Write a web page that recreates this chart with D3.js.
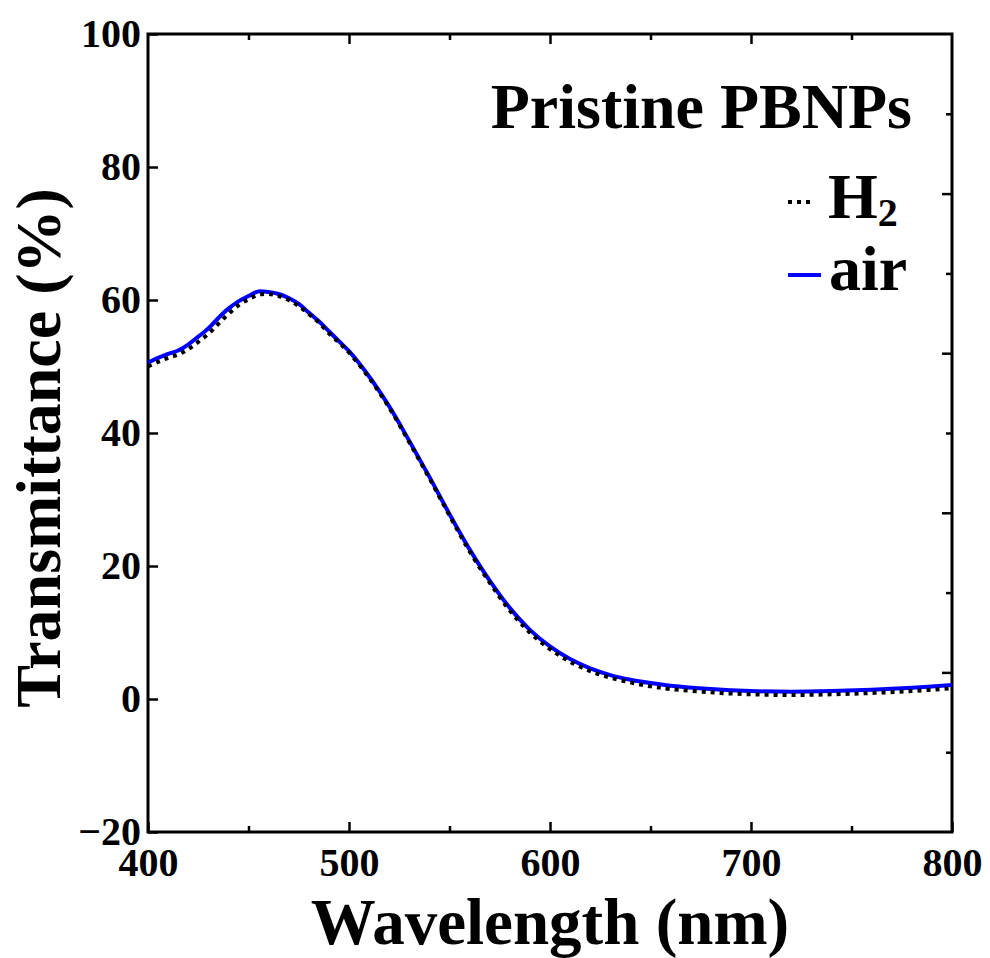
<!DOCTYPE html>
<html>
<head>
<meta charset="utf-8">
<script src="https://cdn.jsdelivr.net/npm/d3@7"></script>
<style>
  body { margin: 0; background: #fff; }
  text { font-family: "Liberation Serif", "Times New Roman", serif; font-weight: bold; fill: #000; }
</style>
</head>
<body>
<svg id="chart" width="990" height="958"></svg>
<script>
// wavelengths (nm)
const wavelength = [400,405,410,415,420,425,430,435,440,445,450,455,460,465,470,475,480,485,490,495,500,
    510,520,530,540,550,560,570,580,590,600,610,620,630,640,650,660,680,700,720,740,760,780,800]

// transmittance (%) measured in air
const airT = [50.6,51.3,51.9,52.4,53.3,54.5,55.7,57.3,58.7,59.8,60.6,61.3,61.2,60.9,60.3,59.4,58.1,56.8,55.3,53.8,52.3,
    48.5,44.0,38.8,33.4,27.8,22.5,17.8,13.7,10.4,7.9,6.0,4.6,3.6,2.9,2.4,2.0,1.5,1.2,1.1,1.2,1.4,1.7,2.1]

// transmittance (%) measured in H2
const h2T = [50.0,50.7,51.3,51.8,52.6,53.7,54.9,56.4,57.9,59.2,60.1,60.8,60.9,60.6,60.0,59.1,57.9,56.6,55.0,53.6,52.1,
    48.3,43.8,38.6,33.2,27.6,22.2,17.5,13.3,10.0,7.5,5.6,4.2,3.2,2.5,1.9,1.5,1.0,0.7,0.6,0.7,0.9,1.2,1.6]

const xTicks = [400,500,600,700,800]
const xMinor = [450,550,650,750]
const yTicks = [-20,0,20,40,60,80,100]
const rightMajor = [1,2,3,4]
const rightMinor = [0.5,1.5,2.5,3.5,4.5]

const pLeft = 148, pRight = 952, pTop = 34, pBottom = 832

var svg = d3.select("#chart")

var x = d3.scaleLinear().domain([400, 800]).range([pLeft, pRight])
var y = d3.scaleLinear().domain([-20, 100]).range([pBottom, pTop])
// unlabeled secondary scale on the right side
var yR = d3.scaleLinear().domain([0, 5]).range([pBottom, pTop])

const fmt = d => d < 0 ? "\u2212" + Math.abs(d) : d

function styleAxis(g) {
    g.select(".domain").remove()
    g.selectAll(".tick line").attr("stroke", "#000").attr("stroke-width", 2.5)
    g.selectAll(".tick text")
        .attr("font-family", "Liberation Serif, Times New Roman, serif")
        .attr("font-weight", "bold")
        .attr("font-size", 40)
        .attr("fill", "#000")
}

// bottom
svg.append("g").attr("transform", `translate(0,${pBottom})`)
    .call(d3.axisBottom(x).tickValues(xTicks).tickSize(-10).tickPadding(16).tickFormat(fmt))
    .call(styleAxis)
svg.append("g").attr("transform", `translate(0,${pBottom})`)
    .call(d3.axisBottom(x).tickValues(xMinor).tickSize(-6).tickFormat(""))
    .call(styleAxis)

// top
svg.append("g").attr("transform", `translate(0,${pTop})`)
    .call(d3.axisTop(x).tickValues([500,600,700]).tickSize(-10).tickFormat(""))
    .call(styleAxis)
svg.append("g").attr("transform", `translate(0,${pTop})`)
    .call(d3.axisTop(x).tickValues(xMinor).tickSize(-6).tickFormat(""))
    .call(styleAxis)

// left
svg.append("g").attr("transform", `translate(${pLeft},0)`)
    .call(d3.axisLeft(y).tickValues(yTicks).tickSize(-10).tickPadding(7).tickFormat(fmt))
    .call(styleAxis)

// right
svg.append("g").attr("transform", `translate(${pRight},0)`)
    .call(d3.axisRight(yR).tickValues(rightMajor).tickSize(-10).tickFormat(""))
    .call(styleAxis)
svg.append("g").attr("transform", `translate(${pRight},0)`)
    .call(d3.axisRight(yR).tickValues(rightMinor).tickSize(-6).tickFormat(""))
    .call(styleAxis)

// frame
svg.append("rect")
    .attr("x", pLeft).attr("y", pTop)
    .attr("width", pRight - pLeft).attr("height", pBottom - pTop)
    .attr("fill", "none").attr("stroke", "#000").attr("stroke-width", 3)

var line = d3.line()
    .x(d => x(d[0]))
    .y(d => y(d[1]))
    .curve(d3.curveCatmullRom)

svg.append("path")
    .datum(wavelength.map((w, i) => [w, airT[i]]))
    .attr("d", line)
    .attr("fill", "none")
    .attr("stroke", "#0000ff")
    .attr("stroke-width", 4)

svg.append("path")
    .datum(wavelength.map((w, i) => [w, h2T[i]]))
    .attr("d", line)
    .attr("fill", "none")
    .attr("stroke", "#000")
    .attr("stroke-width", 4)
    .attr("stroke-dasharray", "4,5")

// axis titles
svg.append("text")
    .attr("x", (pLeft + pRight) / 2).attr("y", 944)
    .attr("text-anchor", "middle")
    .attr("font-size", 65)
    .text("Wavelength (nm)")

svg.append("text")
    .attr("transform", `translate(60,${(pTop + pBottom) / 2 + 15}) rotate(-90)`)
    .attr("text-anchor", "middle")
    .attr("font-size", 64)
    .text("Transmittance (%)")

// annotation + legend
svg.append("text")
    .attr("x", 912).attr("y", 128)
    .attr("text-anchor", "end")
    .attr("font-size", 64)
    .text("Pristine PBNPs")

svg.append("line")
    .attr("x1", 788).attr("x2", 814).attr("y1", 202).attr("y2", 202)
    .attr("stroke", "#000").attr("stroke-width", 4).attr("stroke-dasharray", "4,5")

var h2 = svg.append("text").attr("x", 828).attr("y", 218).attr("font-size", 64)
h2.append("tspan").text("H")
h2.append("tspan").attr("font-size", 40).attr("dy", 8).text("2")

svg.append("line")
    .attr("x1", 788).attr("x2", 821).attr("y1", 275).attr("y2", 275)
    .attr("stroke", "#0000ff").attr("stroke-width", 4)

svg.append("text")
    .attr("x", 829).attr("y", 290)
    .attr("font-size", 64)
    .text("air")
</script>
</body>
</html>
